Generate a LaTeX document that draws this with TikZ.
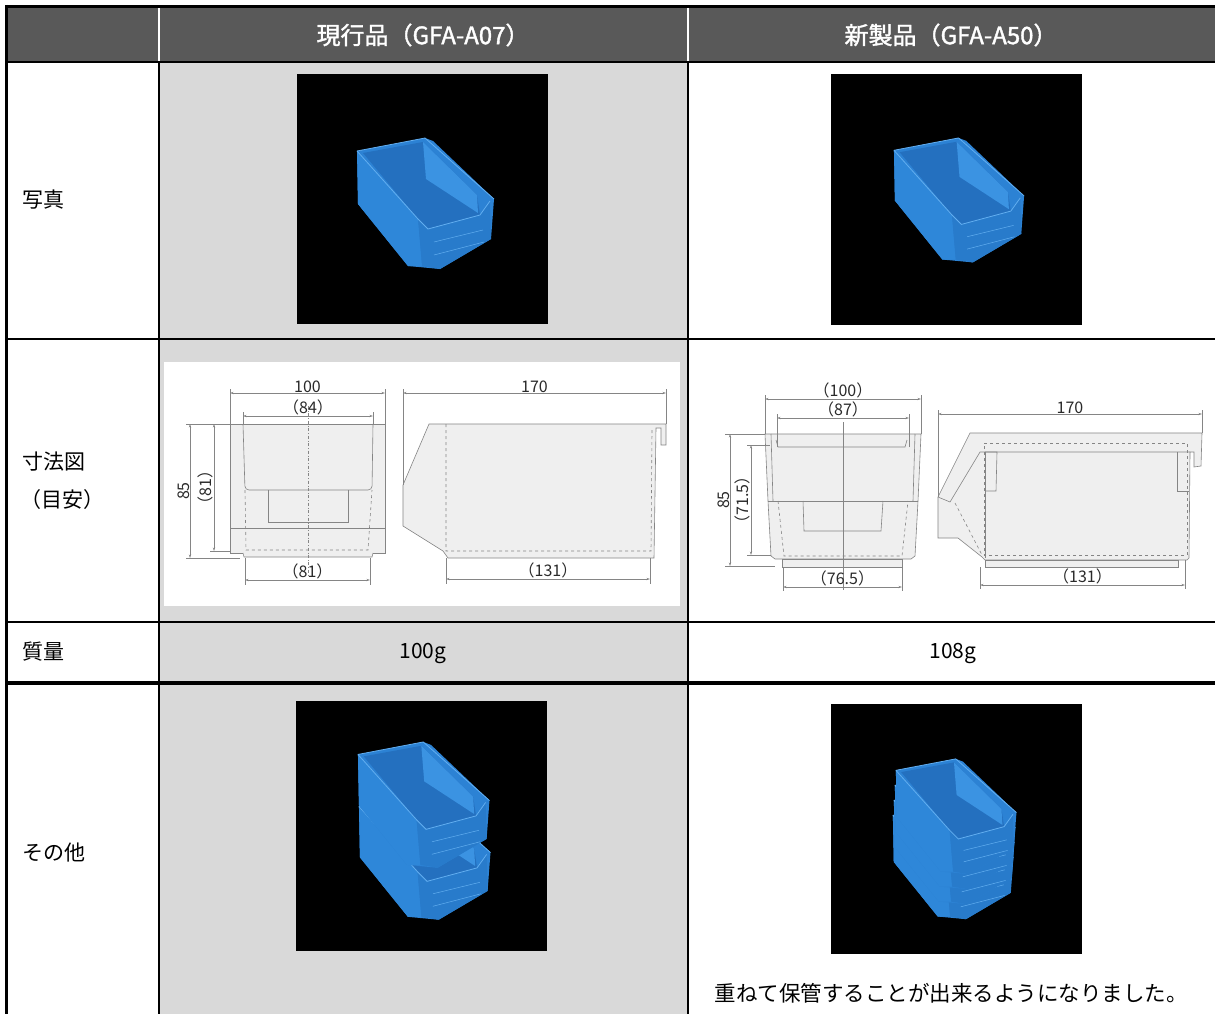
\documentclass[tikz,border=0pt]{standalone}
\usepackage{fontspec}
\setmainfont{Noto Sans CJK JP}
\newfontfamily\headfont{Noto Sans CJK JP}[FakeBold=1.6]
\usetikzlibrary{arrows.meta}
\definecolor{headgray}{HTML}{595959}
\definecolor{cellgray}{HTML}{D9D9D9}
\definecolor{partline}{HTML}{858585}
\definecolor{partfill}{HTML}{EFEFEF}
\definecolor{dimtext}{HTML}{2A2A2A}
\definecolor{binmid}{HTML}{2C82D4}
\definecolor{binin}{HTML}{2470BF}
\definecolor{binlt}{HTML}{3B93E2}
\definecolor{binleft}{HTML}{2E87D9}
\definecolor{binfront}{HTML}{287BCB}
\definecolor{binedge}{HTML}{62AEF0}
\newcommand{\cellfont}{\fontsize{21}{25}\selectfont}

\tikzset{
  rowlbl/.style={anchor=west, inner sep=0pt, font=\cellfont},
  headlbl/.style={text=white, inner sep=0pt, font=\fontsize{24}{28}\selectfont\headfont},
  photo/.style={fill=black, minimum width=251pt, minimum height=250pt, inner sep=0pt},
  part/.style={draw=partline, line width=0.6pt},
  partbody/.style={draw=partline, fill=partfill, line width=0.6pt},
  ext/.style={draw=partline, line width=0.45pt},
  dim/.style={draw=partline, line width=0.45pt,
    {Stealth[length=3.5pt,width=2.2pt]}-{Stealth[length=3.5pt,width=2.2pt]}},
  dimlbl/.style={text=dimtext, inner sep=0.5pt, font=\fontsize{16}{16}\selectfont},
  bin/.pic={
    \fill[binmid] (1,14) -- (69,1) -- (77,4) -- (138,62) -- (135,102) -- (84,132) -- (52,129) -- (2,67) -- cycle;
    \fill[binin] (7,16) -- (67,5) -- (121,58) -- (124,78) -- (72,92) -- (62,82) -- cycle;
    \fill[binlt] (67,5) -- (121,58) -- (122,76) -- (70,42) -- cycle;
    \fill[binleft] (1,14) -- (62,82) -- (66,129) -- (52,129) -- (2,67) -- cycle;
    \fill[binfront] (62,82) -- (72,92) -- (124,78) -- (134,64) -- (135,102) -- (84,132) -- (66,129) -- cycle;
    \draw[binedge, line width=0.8pt] (1,14) -- (69,1) -- (138,62) (1,14) -- (62,82) -- (72,92) -- (124,78) -- (134,64);
    \draw[binedge, line width=0.5pt] (78,105) -- (127,93) (78,118) -- (128,105);
  }
}

\begin{document}
\begin{tikzpicture}[x=1pt, y=-1pt]
  \useasboundingbox (0,0) rectangle (1215,1014);
  \fill[white] (0,0) rectangle (1215,1014);
  % Cells
  \fill[headgray] (6,6) rectangle (1215,62);
  \fill[cellgray] (159,62) rectangle (688,1014);

  % Header
  \node[headlbl] (H1) at (423,35) {現行品（GFA-A07）};
  \node[headlbl] (H2) at (951,35) {新製品（GFA-A50）};

  % Row labels
  \node[rowlbl] (R1) at (22,200) {写真};
  \node[rowlbl] (R2) at (22,462) {寸法図};
  \node[rowlbl] (R2b) at (20,500) {（目安）};
  \node[rowlbl] (R3) at (22,652) {質量};
  \node[rowlbl] (R4) at (22,853) {その他};

  % Photos
  \node[photo] (PA) at (422.5,199) {};
  \pic at (356,137) {bin};
  \node[photo] (PB) at (956,199.5) {};
  \pic[scale=0.95] at (893,137) {bin};
  \node[photo] (PC) at (421.5,826) {};
  \pic[scale=0.96] at (358,793) {bin};
  \pic[scale=0.96] at (357,741) {bin};
  \node[photo] (PD) at (956,829) {};
  \foreach \k in {3,2,1,0}
    \pic[scale=0.88] at (895-\k,758+15*\k) {bin};

  % Drawing A07
  \node[fill=white, minimum width=516pt, minimum height=244pt, inner sep=0pt] (FA) at (422,484) {};
  % front view
  \filldraw[partbody] (230,424) rectangle (385,553);
  \filldraw[partbody] (243,553) -- (244,557) -- (372,557) -- (373,553);
  \draw[part] (230,528) -- (385,528);
  \draw[part, rounded corners=4pt] (243,424) -- (245,490) -- (372,490) -- (373,424);
  \draw[part] (268,490) -- (268,522) -- (348,522) -- (348,490);
  \draw[part, dashed] (245,490) -- (246,550) -- (368,550) -- (372,490);
  \draw[ext, dash dot] (308,406) -- (308,577);
  \draw[ext] (230,424) -- (230,389) (385,424) -- (385,389);
  \draw[dim] (230,393) -- node[dimlbl, above] (dA1) {100} (385,393);
  \draw[ext] (243,424) -- (243,412) (373,424) -- (373,412);
  \draw[dim] (243,416) -- node[dimlbl, above] (dA2) {（84）} (373,416);
  \draw[ext] (186,424) -- (230,424) (186,558) -- (240,558);
  \draw[dim] (190,424) -- node[dimlbl, rotate=90, above] (dA3) {85} (190,558);
  \draw[ext] (210,551) -- (230,551);
  \draw[dim] (214,424) -- node[dimlbl, rotate=90, above] (dA4) {（81）} (214,551);
  \draw[ext] (245,558) -- (245,585) (370,558) -- (370,585);
  \draw[dim] (245,580) -- node[dimlbl, above] (dA5) {（81）} (370,580);
  % side view
  \filldraw[partbody] (429,424) -- (666,424) -- (666,445) -- (661,445) -- (661,428) -- (656,428)
    -- (654,558) -- (448,558) -- (443,551) -- (403,526) -- (403,485) -- cycle;
  \draw[part, dashed] (446,424) -- (446,551) -- (651,551) -- (652,430);
  \draw[ext] (403,485) -- (403,389) (666,424) -- (666,389);
  \draw[dim] (403,393) -- node[dimlbl, above] (dA6) {170} (666,393);
  \draw[ext] (446,558) -- (446,584) (650,558) -- (650,584);
  \draw[dim] (446,579) -- node[dimlbl, above] (dA7) {（131）} (650,579);

  % Drawing A50
  % front view
  \filldraw[partbody] (765,434) -- (921,434) -- (918,501) -- (915,556) -- (911,559) -- (775,559)
    -- (771,556) -- (768,501) -- cycle;
  \filldraw[partbody] (782,559) rectangle (902,567);
  \draw[part] (768,501) -- (918,501);
  \draw[part] (771,434) -- (773,501) (915,434) -- (913,501);
  \draw[part] (776,440) -- (778,447) -- (905,447) -- (907,440);
  \draw[part] (803,501) -- (804,531) -- (881,531) -- (883,501);
  \draw[part, dashed] (778,501) -- (784,556) -- (902,556) -- (908,501);
  \draw[ext] (843,422) -- (843,590);
  \draw[ext] (765,434) -- (765,395) (921,434) -- (921,395);
  \draw[dim] (765,399) -- node[dimlbl, above] (dB1) {（100）} (921,399);
  \draw[ext] (777,447) -- (777,414) (909,447) -- (909,414);
  \draw[dim] (777,418) -- node[dimlbl, above] (dB2) {（87）} (909,418);
  \draw[ext] (725,434) -- (765,434) (725,566) -- (775,566);
  \draw[dim] (730,434) -- node[dimlbl, rotate=90, above] (dB3) {85} (730,566);
  \draw[ext] (747,445) -- (770,445) (747,555) -- (771,555);
  \draw[dim] (751,445) -- node[dimlbl, rotate=90, above] (dB4) {（71.5）} (751,555);
  \draw[ext] (783,567) -- (783,591) (902,567) -- (902,591);
  \draw[dim] (783,587) -- node[dimlbl, above] (dB5) {（76.5）} (902,587);
  % side view
  \filldraw[partbody] (970,433) -- (1202,433) -- (1201,466) -- (1194,467) -- (1194,452) -- (1190,452)
    -- (1189,558) -- (1187,560) -- (985,560) -- (982,557) -- (958,538) -- (938,538) -- (938,497) -- cycle;
  \filldraw[partbody] (985,560) rectangle (1178,567);
  \draw[part] (938,497) -- (950,502) -- (980,452) -- (1190,452);
  \draw[part] (985,452) -- (985,558);
  \draw[part] (985,452) -- (997,452) -- (996,491) -- (985,491);
  \draw[part] (1177,452) -- (1177,491) -- (1189,491);
  \draw[part, dashed] (984,443) -- (1187,443) -- (1187,555) -- (984,555) -- cycle;
  \draw[part, dashed] (955,503) -- (982,555);
  \draw[ext] (938,497) -- (938,410) (1202,433) -- (1202,410);
  \draw[dim] (938,414) -- node[dimlbl, above] (dB6) {170} (1202,414);
  \draw[ext] (980,567) -- (980,589) (1185,560) -- (1185,589);
  \draw[dim] (980,585) -- node[dimlbl, above] (dB7) {（131）} (1185,585);

  % Mass and note
  \node[font=\cellfont] (MA) at (423,653) {100g};
  \node[font=\cellfont] (MB) at (953,653) {108g};
  \node[font=\fontsize{21.5}{25}\selectfont] (NB) at (951,993) {重ねて保管することが出来るようになりました。};

  % Rules
  \draw[line width=3pt] (5,6.5) -- (1215,6.5);
  \draw[line width=3pt] (6.5,5) -- (6.5,1014);
  \draw[white, line width=1.5pt] (159,8) -- (159,62) (688,8) -- (688,62);
  \draw[line width=2pt] (159,62) -- (159,1014) (688,62) -- (688,1014);
  \foreach \y in {62,339,622}
    \draw[line width=2.5pt] (5,\y) -- (1215,\y);
  \draw[line width=4pt] (5,683) -- (1215,683);
\end{tikzpicture}
\end{document}
